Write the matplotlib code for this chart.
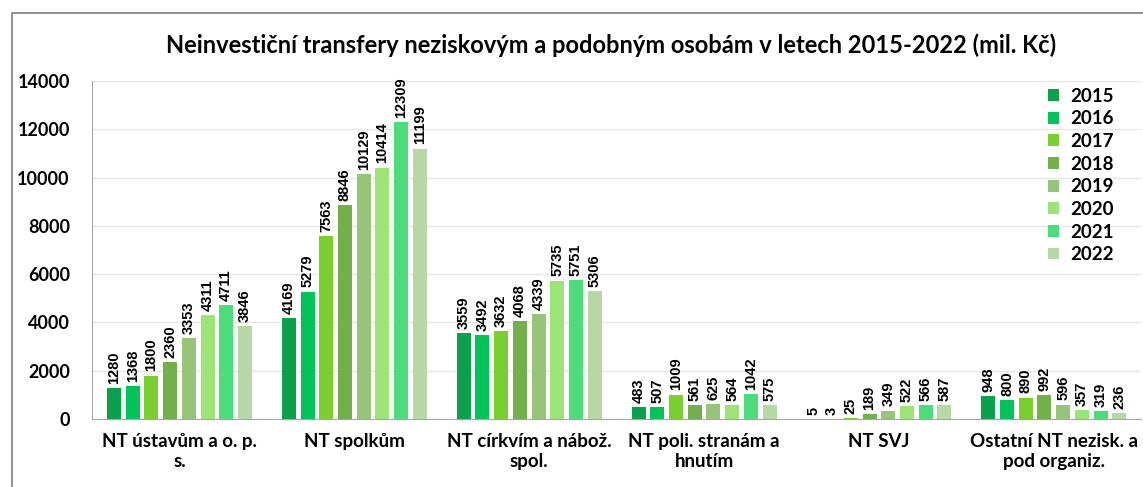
import matplotlib.pyplot as plt
import matplotlib.patches as mpatches
import numpy as np

# Categories and yearly values (mil. Kč)
categories = ["NT ústavům a o. p.\ns.", "NT spolkům", "NT církvím a nábož.\nspol.",
              "NT poli. stranám a\nhnutím", "NT SVJ", "Ostatní NT nezisk. a\npod organiz."]
years = ["2015", "2016", "2017", "2018", "2019", "2020", "2021", "2022"]
v2015 = [1280, 4169, 3559, 483, 5, 948]
v2016 = [1368, 5279, 3492, 507, 3, 800]
v2017 = [1800, 7563, 3632, 1009, 25, 890]
v2018 = [2360, 8846, 4068, 561, 189, 992]
v2019 = [3353, 10129, 4339, 625, 349, 596]
v2020 = [4311, 10414, 5735, 564, 522, 357]
v2021 = [4711, 12309, 5751, 1042, 566, 319]
v2022 = [3846, 11199, 5306, 575, 587, 236]
series = [v2015, v2016, v2017, v2018, v2019, v2020, v2021, v2022]
colors = ["#0aa04c", "#00c45a", "#7acf30", "#72b04c", "#96c478", "#9de476", "#4cdc7a", "#b5d8a4"]

fig = plt.figure(figsize=(11.43, 4.87), dpi=100)
ax = fig.add_axes([0.0805, 0.1396, 0.918, 0.694])

# outer chart border
fig.patches.append(mpatches.Rectangle((12 / 1143, -0.1), 1.2, 1 - 13 / 487 + 0.1,
                                      transform=fig.transFigure, fill=False,
                                      edgecolor="#7f7f7f", linewidth=1.2))

x = np.arange(len(categories))
slot = 0.107
width = 0.08
for i, (yr, vals, c) in enumerate(zip(years, series, colors)):
    pos = x + (i - 3.5) * slot
    ax.bar(pos, vals, width=width, color=c, label=yr, zorder=3)
    for p, v in zip(pos, vals):
        ax.annotate(str(v), (p, v), xytext=(0, 3), textcoords="offset points",
                    rotation=90, ha="center", va="bottom", fontsize=10.5,
                    fontweight="bold", family="Liberation Sans")

ax.set_xlim(-0.5, len(categories) - 0.5)
ax.set_ylim(0, 14000)
ax.set_yticks(range(0, 14001, 2000))
ax.yaxis.grid(True, color="#e6e6e6", linewidth=1, zorder=0)
ax.set_axisbelow(True)
ax.set_xticks(x)
ax.set_xticklabels(categories, fontsize=13.5, fontweight="bold", family="Lato")
ax.tick_params(axis="x", length=0, pad=10)
ax.tick_params(axis="y", length=0, pad=16, labelsize=13)
for lbl in ax.get_yticklabels():
    lbl.set_fontweight("bold")
    lbl.set_family("Lato")
for s in ["top", "right"]:
    ax.spines[s].set_visible(False)
ax.spines["left"].set_color("#a6a6a6")
ax.spines["bottom"].set_color("#a6a6a6")

fig.text(0.535, 0.907, "Neinvestiční transfery neziskovým a podobným osobám v letech 2015-2022 (mil. Kč)",
         ha="center", va="center", fontsize=17, fontweight="bold", family="Lato")

leg = ax.legend(loc="upper right", bbox_to_anchor=(0.99, 1.03), frameon=False,
                prop={"family": "Lato", "weight": "bold", "size": 13.5},
                handlelength=0.6, handleheight=0.6, labelspacing=0.3, handletextpad=0.6)

fig.savefig("out.png", dpi=100)
